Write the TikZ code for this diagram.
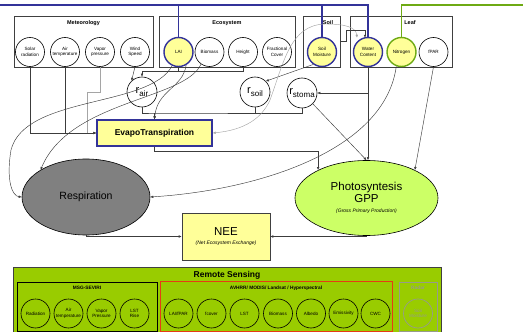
\documentclass[tikz,border=0pt]{standalone}
\usepackage{fontspec}
\setmainfont{Liberation Sans}
\usetikzlibrary{arrows.meta,shapes.geometric,calc}
\definecolor{blu}{RGB}{51,51,153}
\definecolor{grn}{RGB}{110,170,20}
\definecolor{yel}{RGB}{255,255,153}
\definecolor{lgrn}{RGB}{204,255,102}
\definecolor{rsg}{RGB}{153,204,0}
\definecolor{dk}{RGB}{64,64,64}
\definecolor{ln}{RGB}{60,60,60}
\definecolor{lgray}{RGB}{165,165,165}
\definecolor{radg}{RGB}{150,155,140}
\definecolor{redb}{RGB}{230,60,20}
\definecolor{resg}{RGB}{128,128,128}
\tikzset{
  grp/.style={draw=dk, line width=0.8pt, inner sep=0pt},
  ttl/.style={font=\fontsize{5.5}{6}\selectfont\bfseries, inner sep=0pt},
  var/.style={circle, draw=black, line width=0.6pt, minimum size=29pt, inner sep=0pt, align=center, font=\fontsize{4.6}{5.6}\selectfont},
  hivar/.style={var, fill=yel, draw=blu, line width=1.4pt},
  grvar/.style={var, fill=yel, draw=grn, line width=1.4pt},
  rsvar/.style={var, minimum size=29pt},
  rnode/.style={circle, draw=black, line width=0.6pt, minimum size=30pt, inner sep=0pt},
  conn/.style={draw=ln, line width=0.45pt},
  arr/.style={conn, -{Latex[length=3pt,width=2.6pt]}},
  garr/.style={draw=lgray, line width=0.45pt, -{Latex[length=3pt,width=2.6pt]}},
}
\newcommand{\rsub}[1]{{\fontsize{11}{11}\selectfont r}\raisebox{-2.5pt}{\fontsize{8}{8}\selectfont #1}}
\begin{document}
\begin{tikzpicture}[x=1pt,y=-1pt]
\useasboundingbox (0,0) rectangle (523,332);
\clip (0,0) rectangle (523,332);

% ---------- top groups ----------
\node[grp, minimum width=139pt, minimum height=51pt] (met) at (83.5,42) {};
\node[ttl] (mett) at (83.5,23) {Meteorology};
\node[grp, minimum width=136pt, minimum height=51pt] (eco) at (227,42) {};
\node[ttl] (ecot) at (227,23) {Ecosystem};
\node[grp, minimum width=37pt, minimum height=51pt] (soil) at (321.5,42) {};
\node[ttl] (soilt) at (328,23) {Soil};
\node[grp, minimum width=102pt, minimum height=51pt] (leaf) at (401,42) {};
\node[ttl] (leaft) at (410,23) {Leaf};

\node[var] (solar) at (30,52) {Solar\\radiation};
\node[var] (airt) at (65,52) {Air\\temperature};
\node[var] (vap) at (100,52) {Vapor\\pressure};
\node[var] (wind) at (135,52) {Wind\\Speed};
\node[hivar] (lai) at (178.5,52) {LAI};
\node[var] (bio) at (209.5,52) {Biomass};
\node[var] (hgt) at (243,52) {Height};
\node[var] (frac) at (277,52) {Fractional\\Cover};
\node[hivar] (soilm) at (322,52) {Soil\\Moisture};
\node[hivar] (wc) at (368,52) {Water\\Content};
\node[grvar] (nit) at (401.5,52) {Nitrogen};
\node[var] (fpar) at (433.5,52) {fPAR};

% ---------- middle ----------
\node[rnode] (rair) at (142,92) {\rsub{air}};
\node[rnode] (rsoil) at (255,92) {\rsub{soil}};
\node[rnode] (rstoma) at (302,93) {\rsub{stoma}};
\node[draw=blu, fill=yel, line width=1.3pt, minimum width=115pt, minimum height=26pt, inner sep=0pt,
      font=\fontsize{8.5}{9}\selectfont\bfseries] (et) at (154.5,133) {EvapoTranspiration};
\node[ellipse, draw=black, fill=resg, line width=0.6pt, minimum width=128pt, minimum height=76pt, inner sep=0pt,
      font=\fontsize{10.5}{11}\selectfont] (resp) at (86,197) {Respiration};
\node[ellipse, draw=black, fill=lgrn, line width=0.6pt, minimum width=143pt, minimum height=75pt, inner sep=0pt,
      align=center] (photo) at (366.5,198)
      {{\fontsize{11.5}{12.5}\selectfont Photosyntesis}\\{\fontsize{11.5}{12.5}\selectfont GPP}\\[-2pt]{\fontsize{5}{6}\selectfont\itshape (Gross Primary Production)}};
\node[draw=dk, fill=yel, line width=0.6pt, minimum width=88pt, minimum height=47pt, inner sep=0pt, align=center]
      (nee) at (226,236.5) {{\fontsize{11.5}{12.5}\selectfont NEE}\\[-3.5pt]{\fontsize{5}{6}\selectfont\itshape (Net Ecosystem Exchange)}};

% ---------- remote sensing ----------
\node[draw=dk, fill=rsg, line width=0.8pt, minimum width=428pt, minimum height=73pt, inner sep=0pt] (rs) at (227,303.5) {};
\node[font=\fontsize{8.5}{9}\selectfont\bfseries, inner sep=0pt] (rst) at (227,275.5) {Remote Sensing};
\node[draw=black, line width=0.6pt, minimum width=140pt, minimum height=49pt, inner sep=0pt] (msg) at (87,306.5) {};
\node[ttl, font=\fontsize{4.8}{5}\selectfont\bfseries] (msgt) at (87,288) {MSG-SEVIRI};
\node[draw=redb, line width=0.9pt, minimum width=232pt, minimum height=50pt, inner sep=0pt] (avh) at (276,306) {};
\node[ttl, font=\fontsize{4.8}{5}\selectfont\bfseries] (avht) at (276,288) {AVHRR/ MODIS/ Landsat / Hyperspectral};
\node[draw=radg, line width=0.7pt, minimum width=38pt, minimum height=49pt, inner sep=0pt] (radar) at (418,306.5) {};
\node[ttl, font=\fontsize{4.8}{5}\selectfont\bfseries, text=radg] (radart) at (418,288) {Radar};

\node[rsvar] (r1) at (35.5,313.5) {Radiation};
\node[rsvar] (r2) at (68.5,313.5) {Air\\temperature};
\node[rsvar] (r3) at (101.5,313.5) {Vapor\\Pressure};
\node[rsvar] (r4) at (134.5,313.5) {LST\\Rise};
\node[rsvar] (a1) at (178.5,313.5) {LAI/fPAR};
\node[rsvar] (a2) at (211.5,313.5) {fcover};
\node[rsvar] (a3) at (244.5,313.5) {LST};
\node[rsvar] (a4) at (278,313.5) {Biomass};
\node[rsvar] (a5) at (311,313.5) {Albedo};
\node[rsvar] (a6) at (343.5,313.5) {Emissivity};
\node[rsvar] (a7) at (375.5,313.5) {CWC};
\node[rsvar, draw=radg, text=radg, line width=0.7pt] (rd1) at (418,313.5) {Soil\\Moisture};

% ---------- coloured lines ----------
\coordinate (bl) at (0,5);
\draw[blu, line width=1.4pt] (bl) -| (wc.north);
\draw[blu, line width=1.4pt] (lai.north |- bl) -- (lai.north);
\draw[blu, line width=1.4pt] (soilm.north |- bl) -- (soilm.north);
\coordinate (gr) at (523,5);
\draw[grn, line width=1.4pt] (nit.north) |- (gr);

% ---------- connectors ----------
% meteorology -> ET
\draw[arr] (solar.south) |- (et.west);
\draw[arr] (airt.south) |- (et.west);
\coordinate (v1) at (87,92);
\draw[draw=lgray, line width=0.45pt] (vap.south) |- (v1) -- (v1 |- et.west);
% wind -> r_air
\draw[arr] (wind.south) -- (rair.133);
% LAI, Height -> r_air
\coordinate (b1) at (142,71);
\draw[conn] (lai.south) -- (lai.south |- b1);
\draw[arr] (hgt.south) |- (b1) -- (rair.north);
% r's -> ET
\coordinate (b2) at (154.5,113);
\draw[conn] (rair.south) |- (b2) -| (rstoma.south);
\draw[conn] (rsoil.south) -- (rsoil.south |- b2);
\draw[arr] (b2) -- (et.north);
% LAI -> ET curve
\draw[arr] (lai.300) .. controls (183,88) and (157,90) .. (et.north);
% LAI -> Respiration (far left)
\draw[arr] (lai.245) .. controls (150,108) and (25,95) .. (11,150) .. controls (6,180) and (12,196) .. (resp.west);
% Biomass -> Respiration
\draw[arr] (bio.235) .. controls (185,100) and (70,100) .. (resp.north west);
% Soil moisture -> r_soil
\draw[arr] (soilm.235) -- (rsoil.45);
% grey arc ET <-> water content
\coordinate (g1) at (357,37.8);
\draw[garr, {Latex[length=3pt,width=2.6pt]}-{Latex[length=3pt,width=2.6pt]}] (et.east) .. controls (245,130) and (262,118) .. (270,100)
   .. controls (284,62) and (290,25) .. (325,24) .. controls (345,24) and (356,27) .. (g1);
% soil box -> water content (elbow)
\coordinate (s1) at (346,41);
\coordinate (s2) at (365,30);
\draw[arr] (soil.east |- s1) -- (s1) |- (s2) -- (365,37.8);
% water content -> r_stoma and photosynthesis
\draw[arr] (wc.south) |- (rstoma.east);
\draw[arr] (wc.south) -- (wc.south |- photo.north);
% fPAR -> photosynthesis
\draw[arr] (fpar.south) -- (photo.30);
% r_stoma -> photosynthesis
\draw[arr] (rstoma.315) -- (photo.north);
% ET -> photosynthesis
\draw[arr] (et.south) -- ++(0,5) -| (photo.150);
% Nitrogen -> Respiration
\draw[arr] (nit.250) .. controls (385,150) and (260,190) .. (resp.east);
% Respiration, Photosynthesis -> NEE
\draw[arr] (resp.south) |- (nee.west);
\draw[arr] (photo.south) |- (nee.east);
\end{tikzpicture}
\end{document}
